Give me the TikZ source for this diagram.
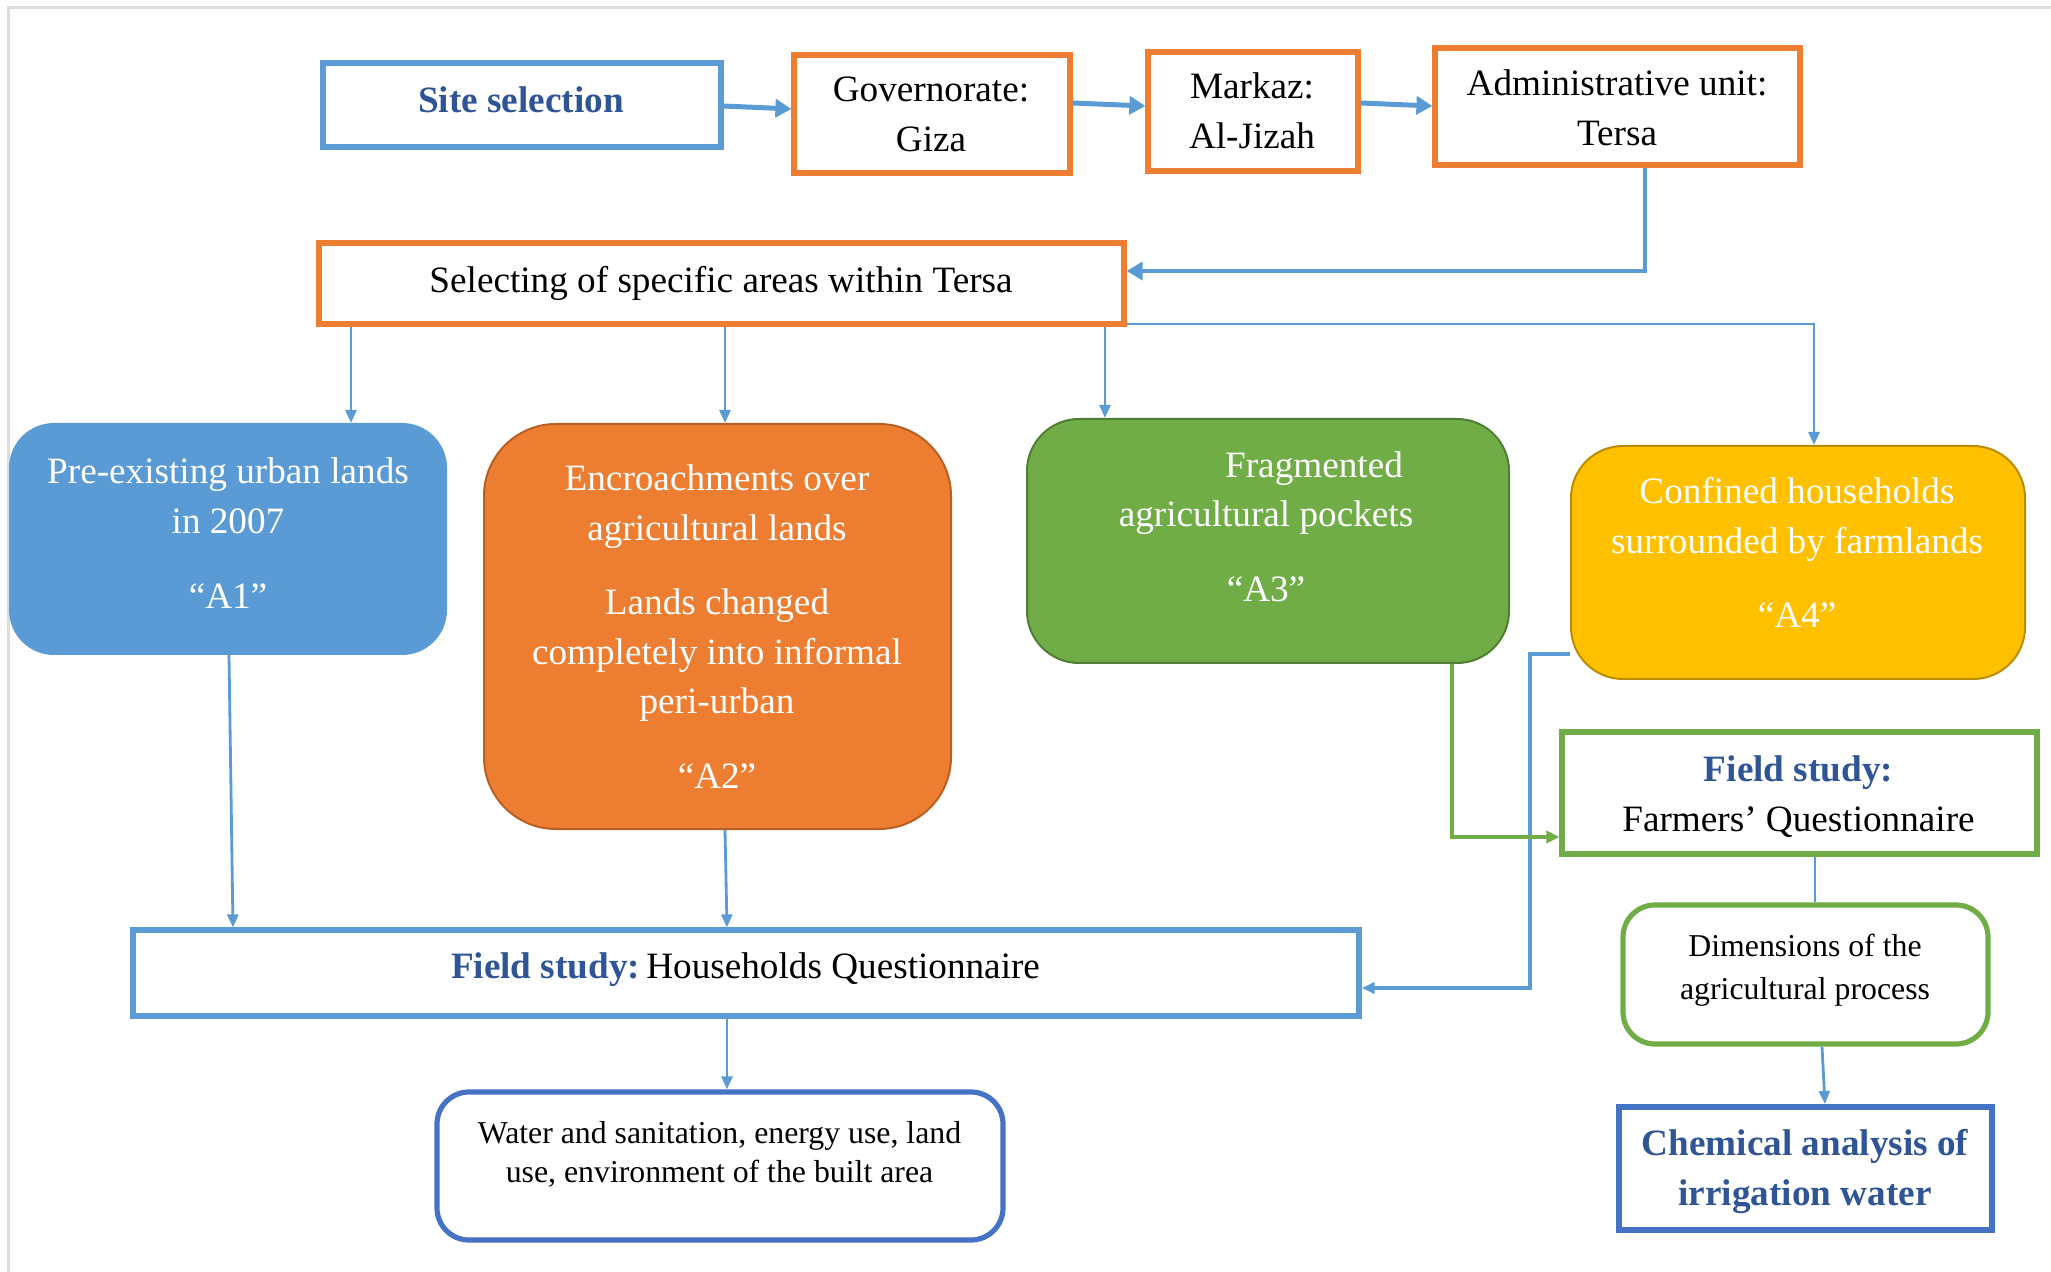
\documentclass[tikz,border=0pt]{standalone}
\usepackage{fontspec}
\setmainfont{Liberation Serif}
\usetikzlibrary{arrows.meta}

\definecolor{cblue}{HTML}{5B9BD5}
\definecolor{cblueD}{HTML}{4472C4}
\definecolor{corange}{HTML}{ED7D31}
\definecolor{corangeD}{HTML}{B85F23}
\definecolor{cgreen}{HTML}{70AD47}
\definecolor{cgreenD}{HTML}{507E32}
\definecolor{cgold}{HTML}{FFC000}
\definecolor{cgoldD}{HTML}{BC8C00}
\definecolor{ctitle}{HTML}{2F5597}
\definecolor{cframe}{HTML}{DDDDDD}

\tikzset{
  plainbox/.style={draw, line width=2.6pt, fill=white, inner sep=0pt},
  areabox/.style={line width=1pt, rounded corners=22pt, inner sep=0pt},
  txt/.style={align=center, inner sep=0pt, font=\fontsize{18.6}{24.8}\selectfont},
  small/.style={align=center, inner sep=0pt, font=\fontsize{15.9}{19.5}\selectfont},
  conn/.style={draw=cblue, line width=1.4pt, -{Triangle[length=6.5pt,width=5.5pt]}},
  bigconn/.style={draw=cblue, line width=2.5pt, -{Triangle[length=8pt,width=9pt]}},
}
\newcommand{\ftitle}[1]{\textcolor{ctitle}{\bfseries #1}}

\begin{document}
\begin{tikzpicture}[x=0.5pt,y=-0.5pt]
\useasboundingbox (0,0) rectangle (2051,1272);
% page frame
\draw[cframe, line width=1.5pt] (8,1272) -- (8,8) -- (2051,8);

% top row
\node[plainbox, draw=cblue, minimum width=199pt, minimum height=42pt] (site) at (522,105) {};
\node[txt] (siteT) at (521,100) {\ftitle{Site selection}};
\node[plainbox, draw=corange, minimum width=138pt, minimum height=59pt] (gov) at (932,114) {};
\node[txt] (govT) at (931,114.5) {Governorate:\\Giza};
\node[plainbox, draw=corange, minimum width=105pt, minimum height=59.5pt] (markaz) at (1253,111.5) {};
\node[txt] (markazT) at (1252,111) {Markaz:\\Al-Jizah};
\node[plainbox, draw=corange, minimum width=182.5pt, minimum height=58.5pt] (admin) at (1617.5,106.5) {};
\node[txt] (adminT) at (1617,108) {Administrative unit:\\Tersa};

% selection of areas
\node[plainbox, draw=corange, minimum width=402.5pt, minimum height=40.5pt] (sel) at (721.5,283.5) {};
\node[txt] (selT) at (721,283) {Selecting of specific areas within Tersa};

% study areas
\node[areabox, fill=cblue, draw=cblue, minimum width=218pt, minimum height=115pt] (a1) at (228,539) {};
\node[txt, text=white] (a1T) at (228,533) {Pre-existing urban lands\\in 2007\\[12.5pt]“A1”};
\node[areabox, rounded corners=36pt, fill=corange, draw=corangeD, minimum width=233.5pt, minimum height=202.5pt] (a2) at (717.5,626.5) {};
\node[txt, text=white] (a2T) at (717,626.5) {Encroachments over\\agricultural lands\\[12.5pt]Lands changed\\completely into informal\\peri-urban\\[12.5pt]“A2”};
\node[areabox, rounded corners=26pt, fill=cgreen, draw=cgreenD, minimum width=241pt, minimum height=122pt] (a3) at (1268,541) {};
\node[txt, text=white] (a3T) at (1266,526.5) {\hspace*{48pt}Fragmented\\agricultural pockets\\[12.5pt]“A3”};
\node[areabox, rounded corners=26pt, fill=cgold, draw=cgoldD, minimum width=227pt, minimum height=116.5pt] (a4) at (1798,562.5) {};
\node[txt, text=white] (a4T) at (1797,552.5) {Confined households\\surrounded by farmlands\\[12.5pt]“A4”};

% field studies
\node[plainbox, draw=cgreen, minimum width=237.5pt, minimum height=61pt] (farm) at (1799.5,793) {};
\node[txt] (farmT) at (1798.5,796.5) {\ftitle{Field study:}\\Farmers’ Questionnaire};
\node[plainbox, draw=cblue, minimum width=613pt, minimum height=43pt] (hh) at (746,973) {};
\node[txt] (hhT) at (745.5,970) {\ftitle{Field study:}\,Households Questionnaire};

% outcomes
\node[plainbox, draw=cblueD, rounded corners=16pt, minimum width=283pt, minimum height=74pt] (water) at (720,1166) {};
\node[small] (waterT) at (719.5,1154) {Water and sanitation, energy use, land\\use, environment of the built area};
\node[plainbox, draw=cgreen, rounded corners=16pt, minimum width=182.5pt, minimum height=69.5pt] (dim) at (1805.5,974.5) {};
\node[small, font=\fontsize{15.9}{21.6}\selectfont] (dimT) at (1805,970) {Dimensions of the\\agricultural process};
\node[plainbox, draw=cblueD, line width=3pt, minimum width=186.5pt, minimum height=61.5pt] (chem) at (1805.5,1168.5) {};
\node[txt] (chemT) at (1805,1171.5) {\ftitle{Chemical analysis of}\\\ftitle{irrigation water}};

% connectors along the top row
\draw[bigconn] (site.east |- 0,106) -- (gov.west |- 0,109);
\draw[bigconn] (gov.east |- 0,103) -- (markaz.west |- 0,106);
\draw[bigconn] (markaz.east |- 0,103) -- (admin.west |- 0,106);
\draw[bigconn, line width=1.8pt] (admin.south -| 1645,0) -- (1645,271) -- (sel.east |- 0,271);

% from the selection to the four areas
\draw[conn] (sel.south -| 351,0) -- (a1.north -| 351,0);
\draw[conn] (sel.south -| 725,0) -- (a2.north -| 725,0);
\draw[conn] (sel.south -| 1105,0) -- (a3.north -| 1105,0);
\draw[conn] (sel.east |- 0,324) -| ([xshift=8pt]a4.north);

% areas to the field studies
\draw[conn] (a1.south -| 229,0) -- (hh.north -| 233,0);
\draw[conn] (a2.south -| 725,0) -- (hh.north -| 727,0);
\draw[conn, line width=2pt] (a4.west |- 0,654) -- (1530,654) -- (1530,988) -- (hh.east |- 0,988);
\draw[draw=cgreen, line width=1.6pt, -{Triangle[length=6.5pt,width=6pt]}, cgreen] (a3.south -| 1452,0) -- (1452,837) -- (farm.west |- 0,837);

% field studies to their outcomes
\draw[conn] (hh.south -| 727,0) -- (water.north -| 727,0);
\draw[draw=cblue, line width=1.4pt] (farm.south -| 1815,0) -- (dim.north -| 1815,0);
\draw[conn] (dim.south -| 1822,0) -- (chem.north -| 1825,0);
\end{tikzpicture}
\end{document}
